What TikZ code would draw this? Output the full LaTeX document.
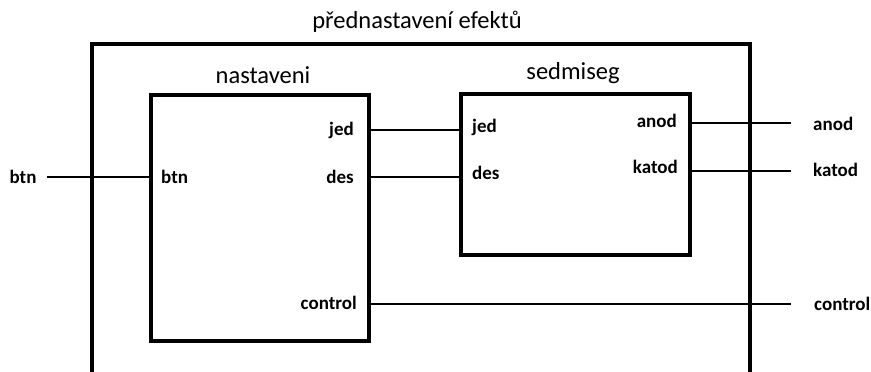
\documentclass[tikz,border=0pt]{standalone}
\usepackage{fontspec}
\setmainfont{Carlito}
\usetikzlibrary{positioning}

\tikzset{
  blok/.style={draw=black, line width=4pt, inner sep=0pt},
  wire/.style={draw=black, line width=2.5pt},
  port/.style={font=\fontsize{19}{21}\selectfont\bfseries, inner sep=0pt},
  title/.style={font=\fontsize{24.5}{27}\selectfont, inner sep=0pt}
}

\begin{document}
\begin{tikzpicture}[x=1pt, y=-1pt]
  \useasboundingbox (0,0) rectangle (871,372);
  \clip (0,0) rectangle (871,372);

  % outer entity
  \node[blok, line width=4.5pt, minimum width=658pt, minimum height=400pt] (efekty) at (421,244) {};
  \node[title] (tefekty) at (417,22) {přednastavení efektů};

  % components
  \node[blok, minimum width=218pt, minimum height=246pt] (nast) at (260,218) {};
  \node[title] (tnast) at (263,75) {nastaveni};
  \node[blok, minimum width=229pt, minimum height=161pt] (sedm) at (575.5,174) {};
  \node[title] (tsedm) at (573,73) {sedmiseg};

  % ports of nastaveni
  \node[port, anchor=west] (nbtn) at (161,177) {btn};
  \node[port, anchor=east] (njed) at (354,130) {jed};
  \node[port, anchor=east] (ndes) at (354,177) {des};
  \node[port, anchor=east] (nctrl) at (357,303) {control};

  % ports of sedmiseg
  \node[port, anchor=west] (sjed) at (472,127) {jed};
  \node[port, anchor=west] (sdes) at (472,173) {des};
  \node[port, anchor=east] (sanod) at (677,121) {anod};
  \node[port, anchor=east] (skatod) at (678,167) {katod};

  % top level ports
  \node[port] (btn) at (23,177) {btn};
  \node[port, anchor=west] (anod) at (813,124) {anod};
  \node[port, anchor=west] (katod) at (813,170) {katod};
  \node[port, anchor=west] (control) at (814,304) {control};

  \coordinate (btnin) at (47,177);
  \coordinate (anodout) at (791,123);
  \coordinate (katodout) at (791,171);
  \coordinate (ctrlout) at (791,304);

  % wires
  \draw[wire] (btnin) -- (btnin -| nast.west);
  \draw[wire] (nast.east |- njed) -- (sedm.west |- njed);
  \draw[wire] (nast.east |- ndes) -- (sedm.west |- ndes);
  \draw[wire] (ctrlout -| nast.east) -- (ctrlout);
  \draw[wire] (anodout -| sedm.east) -- (anodout);
  \draw[wire] (katodout -| sedm.east) -- (katodout);
\end{tikzpicture}
\end{document}
